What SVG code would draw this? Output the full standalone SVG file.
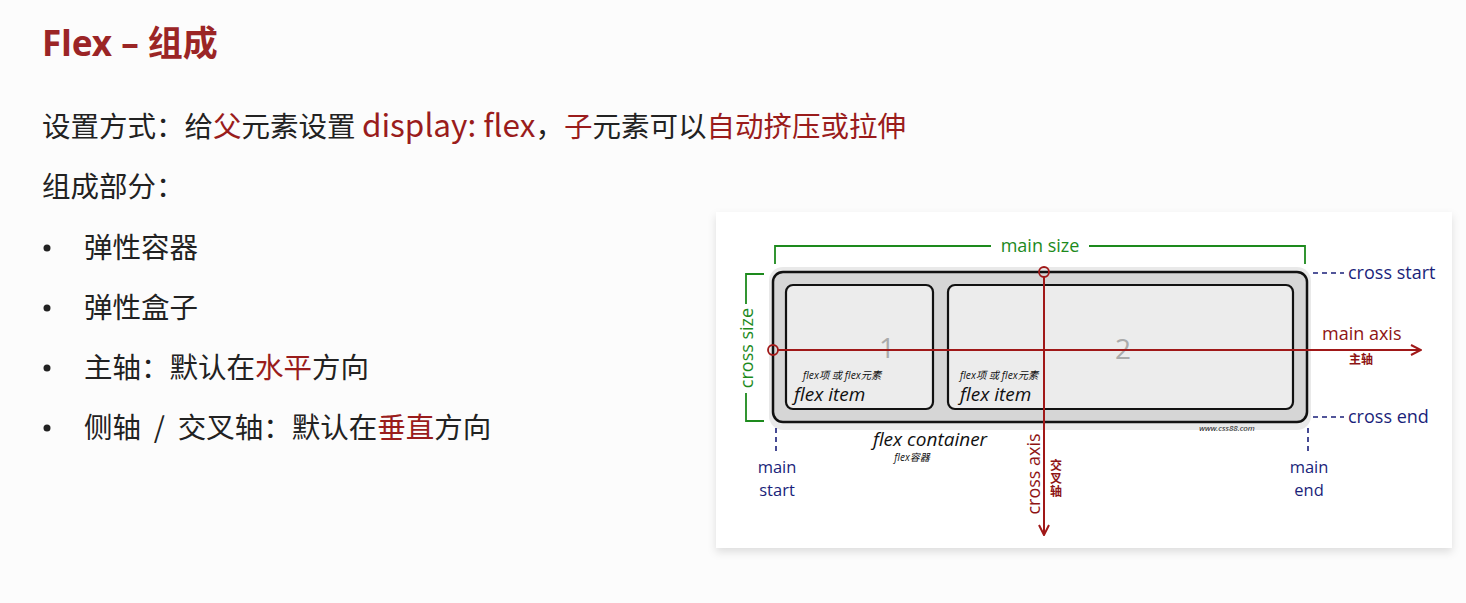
<svg xmlns="http://www.w3.org/2000/svg" width="1466" height="603" viewBox="0 0 1466 603">
<defs>
<style>
.t{font-family:"Noto Sans CJK SC","Noto Sans",sans-serif;fill:#222;font-size:28.5px}
.r{fill:#9a1c1c}
.lt{font-size:31.5px}
.nv{font-family:"Open Sans","Noto Sans",sans-serif;fill:#1a1f7a;font-size:18px}
.nv2{font-family:"Open Sans","Noto Sans",sans-serif;fill:#1a1f7a;font-size:16.5px}
.gr{font-family:"Open Sans","Noto Sans",sans-serif;fill:#1d8a1d;font-size:18px}
.it{font-family:"Open Sans","Noto Sans","Noto Sans CJK SC",sans-serif;font-style:italic;fill:#111}
.ax{stroke:#a01818;stroke-width:2;fill:none}
.item{fill:#ececec;stroke:#111;stroke-width:2.2}
.rd{font-family:"Open Sans","Noto Sans",sans-serif;fill:#8e1414;font-size:18px}
.cj{font-family:"Noto Sans CJK SC",sans-serif;font-size:12px;font-weight:bold;fill:#8e1414}
</style>
<marker id="arr" viewBox="0 0 12 12" refX="11" refY="6" markerWidth="12" markerHeight="12" markerUnits="userSpaceOnUse" orient="auto">
<path d="M1,1 L11,6 L1,11" fill="none" stroke="#a01818" stroke-width="2"/>
</marker>
<filter id="sh" x="-5%" y="-5%" width="110%" height="115%">
<feDropShadow dx="0" dy="4" stdDeviation="4" flood-color="#000" flood-opacity="0.12"/>
</filter>
</defs>
<rect width="1466" height="603" fill="#fcfcfc"/>
<g id="text">
<text x="42" y="56" font-family="'Noto Sans','Noto Sans CJK SC',sans-serif" font-weight="bold" font-size="35" fill="#9b2526">Flex – 组成</text>
<text class="t" x="42" y="137" font-size="29.3">设置方式：给<tspan class="r">父</tspan>元素设置 <tspan class="r lt">display: flex</tspan>，<tspan class="r">子</tspan>元素可以<tspan class="r">自动挤压或拉伸</tspan></text>
<text class="t" x="42" y="197">组成部分：</text>
<circle cx="47" cy="248" r="3.5" fill="#222"/>
<text class="t" x="84" y="258">弹性容器</text>
<circle cx="47" cy="308" r="3.5" fill="#222"/>
<text class="t" x="84" y="318">弹性盒子</text>
<circle cx="47" cy="368" r="3.5" fill="#222"/>
<text class="t" x="84" y="378">主轴：默认在<tspan class="r">水平</tspan>方向</text>
<circle cx="47" cy="428" r="3.5" fill="#222"/>
<text class="t" x="84" y="438">侧轴&#160;&#160;/&#160;&#160;交叉轴：默认在<tspan class="r">垂直</tspan>方向</text>
</g>
<rect x="716" y="212" width="736" height="336" fill="#fff" filter="url(#sh)"/>
<g id="container">
<rect x="769" y="267" width="542" height="163" rx="14" fill="#e4e4e4" opacity="0.8"/>
<rect x="773" y="272" width="534" height="150" rx="10" fill="#d6d6d6" stroke="#111" stroke-width="2.5"/>
<text class="it" x="930" y="446" font-size="19" text-anchor="middle">flex container</text>
<text class="it" x="912" y="461" font-size="10" text-anchor="middle">flex容器</text>
<text class="it" x="1227" y="431" font-size="8" text-anchor="middle" fill="#444">www.css88.com</text>
</g>
<g id="item1">
<rect class="item" x="786" y="285" width="147" height="124" rx="7"/>
<text x="887" y="358" font-family="'Open Sans',sans-serif" font-size="28" fill="#aaa" text-anchor="middle">1</text>
<text class="it" x="803" y="379" font-size="10.3">flex项 或 flex元素</text>
<text class="it" x="794" y="401" font-size="19">flex item</text>
</g>
<g id="item2">
<rect class="item" x="948" y="285" width="345" height="124" rx="7"/>
<text x="1123" y="359" font-family="'Open Sans',sans-serif" font-size="28" fill="#aaa" text-anchor="middle">2</text>
<text class="it" x="960" y="379" font-size="10.3">flex项 或 flex元素</text>
<text class="it" x="960" y="401" font-size="19">flex item</text>
</g>
<g id="connectors">
<path d="M775,264 V246 H991 M1089,246 H1305 V264" fill="none" stroke="#1d8a1d" stroke-width="1.8"/>
<path d="M764,274 H746 V304 M746,393 V421 H764" fill="none" stroke="#1d8a1d" stroke-width="1.8"/>
<path class="ax" d="M778,350 H1421" marker-end="url(#arr)"/>
<circle cx="773" cy="350" r="5" fill="none" stroke="#a01818" stroke-width="1.8"/>
<path class="ax" d="M1044,277 V535" marker-end="url(#arr)"/>
<circle cx="1044" cy="272" r="5" fill="none" stroke="#a01818" stroke-width="1.8"/>
<path d="M1313,273 H1344 M1313,417 H1344 M776,428 V455 M1308,428 V455" fill="none" stroke="#1a1f7a" stroke-width="1.6" stroke-dasharray="5,4"/>
</g>
<g id="labels">
<text class="gr" x="1040" y="252" text-anchor="middle">main size</text>
<text class="gr" transform="translate(753,348) rotate(-90)" text-anchor="middle">cross size</text>
<text class="rd" x="1322" y="340">main axis</text>
<text class="cj" x="1349" y="364">主轴</text>
<text class="nv" x="1348" y="279">cross start</text>
<text class="nv" x="1348" y="423">cross end</text>
<text class="nv2" x="777" y="473" text-anchor="middle">main</text>
<text class="nv2" x="777" y="496" text-anchor="middle">start</text>
<text class="nv2" x="1309" y="473" text-anchor="middle">main</text>
<text class="nv2" x="1309" y="496" text-anchor="middle">end</text>
<text class="rd" transform="translate(1040,474) rotate(-90)" text-anchor="middle">cross axis</text>
<text class="cj" x="1056" y="459" style="writing-mode:vertical-rl" letter-spacing="1">交叉轴</text>
</g>
</svg>
